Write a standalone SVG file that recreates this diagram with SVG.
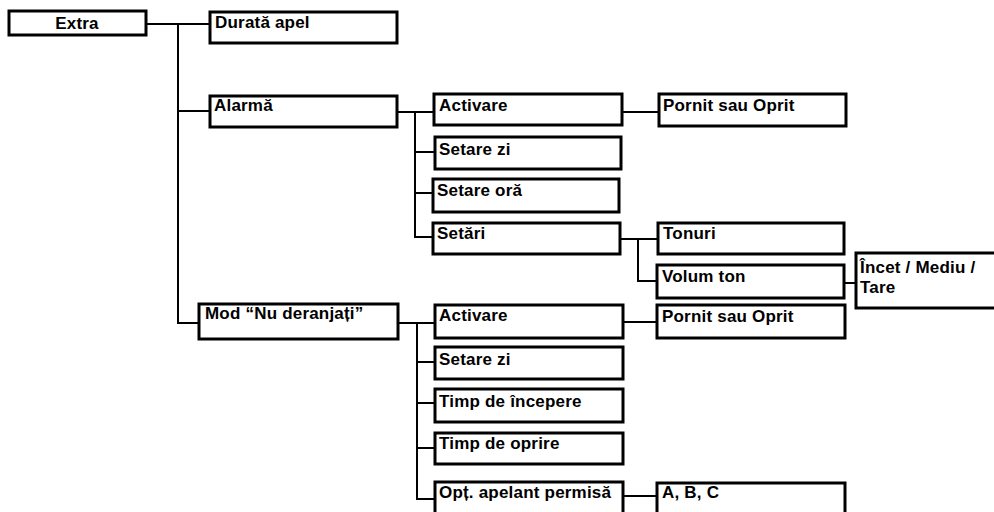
<svg xmlns="http://www.w3.org/2000/svg" width="994" height="512" viewBox="0 0 994 512">
<style>
.box{fill:#fff;stroke:#000;stroke-width:3}
.t{font-family:"Liberation Sans",Arial,sans-serif;font-weight:bold;font-size:17px;letter-spacing:0.2px;fill:#000}
.c{fill:none;stroke:#000;stroke-width:2}
</style>
<rect width="994" height="512" fill="#fff"/>
<g id="connectors">
<path class="c" d="M146,24 H210 M178,24 V323 H199 M178,111 H210"/>
<path class="c" d="M397,112 H434 M415,112 V237 H433 M415,152 H435 M415,193 H433"/>
<path class="c" d="M622,112 H659"/>
<path class="c" d="M620,239 H658 M638,239 V281 H657"/>
<path class="c" d="M844,283 H856"/>
<path class="c" d="M398,323 H435 M417,323 V499 H435 M417,362 H435 M417,403 H435 M417,448 H435"/>
<path class="c" d="M623,322 H657"/>
<path class="c" d="M623,496 H657"/>
</g>
<g id="extra"><rect class="box" x="9" y="11" width="137" height="24"/><text class="t" x="77" y="29" text-anchor="middle">Extra</text></g>
<g id="durata"><rect class="box" x="210" y="12" width="187" height="31"/><text class="t" x="215" y="28">Durată apel</text></g>
<g id="alarma"><rect class="box" x="210" y="96" width="187" height="31"/><text class="t" x="214" y="111">Alarmă</text></g>
<g id="activare1"><rect class="box" x="434" y="94" width="188" height="31"/><text class="t" x="439" y="111">Activare</text></g>
<g id="pornit1"><rect class="box" x="659" y="94" width="187" height="32"/><text class="t" x="663" y="111">Pornit sau Oprit</text></g>
<g id="setarezi1"><rect class="box" x="435" y="137" width="186" height="32"/><text class="t" x="439" y="155">Setare zi</text></g>
<g id="setareora"><rect class="box" x="433" y="179" width="186" height="33"/><text class="t" x="437" y="196">Setare oră</text></g>
<g id="setari"><rect class="box" x="433" y="223" width="187" height="31"/><text class="t" x="437" y="239">Setări</text></g>
<g id="tonuri"><rect class="box" x="658" y="223" width="186" height="31"/><text class="t" x="663" y="239">Tonuri</text></g>
<g id="volum"><rect class="box" x="657" y="265" width="187" height="33"/><text class="t" x="662" y="282">Volum ton</text></g>
<g id="incet"><rect class="box" x="856" y="253" width="140" height="55"/><text class="t" x="860" y="273">Încet / Mediu /</text><text class="t" x="860" y="293">Tare</text></g>
<g id="mod"><rect class="box" x="199" y="304" width="199" height="35"/><text class="t" x="205" y="319">Mod “Nu deranjați”</text></g>
<g id="activare2"><rect class="box" x="435" y="305" width="188" height="33"/><text class="t" x="439" y="321">Activare</text></g>
<g id="pornit2"><rect class="box" x="657" y="305" width="188" height="33"/><text class="t" x="662" y="322">Pornit sau Oprit</text></g>
<g id="setarezi2"><rect class="box" x="435" y="347" width="188" height="32"/><text class="t" x="439" y="365">Setare zi</text></g>
<g id="incepere"><rect class="box" x="435" y="389" width="188" height="33"/><text class="t" x="439" y="407">Timp de începere</text></g>
<g id="oprire"><rect class="box" x="435" y="433" width="188" height="31"/><text class="t" x="439" y="449">Timp de oprire</text></g>
<g id="optapelant"><rect class="box" x="435" y="482" width="188" height="35"/><text class="t" x="439" y="498">Opț. apelant permisă</text></g>
<g id="abc"><rect class="box" x="657" y="483" width="188" height="35"/><text class="t" x="662" y="498">A, B, C</text></g>
</svg>
